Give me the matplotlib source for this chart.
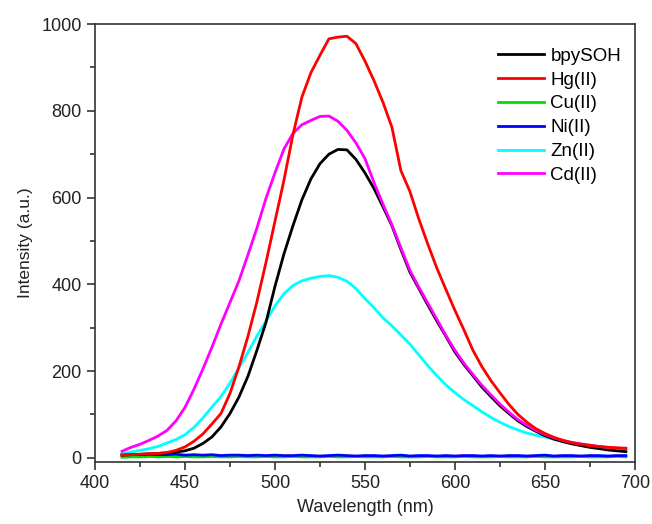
import matplotlib.pyplot as plt
from matplotlib.ticker import MultipleLocator

plt.rcParams['font.family'] = ['Liberation Sans', 'DejaVu Sans']

# wavelength grid (nm)
wavelength = [415, 420, 425, 430, 435, 440, 445, 450, 455, 460, 465, 470, 475, 480,
              485, 490, 495, 500, 505, 510, 515, 520, 525, 530, 535, 540, 545, 550,
              555, 560, 565, 570, 575, 580, 585, 590, 595, 600, 605, 610, 615, 620,
              625, 630, 635, 640, 645, 650, 655, 660, 665, 670, 675, 680, 685, 690, 695]

bpysoh = [6, 7, 8, 9, 10, 11, 13, 16, 22, 33, 48, 71, 102, 140,
          188, 248, 312, 395, 470, 535, 595, 643, 678, 700, 711, 710, 688, 657,
          621, 579, 535, 480, 428, 390, 352, 315, 280, 244, 215, 189, 163, 141,
          120, 102, 85, 72, 61, 51, 43, 37, 32, 28, 24, 21, 18, 16, 14]

hg = [6, 7, 8, 9, 10, 12, 17, 25, 38, 55, 78, 102, 148, 210,
      280, 360, 450, 545, 640, 745, 832, 888, 928, 966, 970, 972, 955, 915,
      870, 820, 762, 662, 614, 550, 492, 437, 388, 340, 295, 248, 210, 178,
      150, 123, 100, 82, 67, 56, 47, 40, 35, 31, 28, 26, 24, 23, 22]

cu = [1, 2, 2, 3, 2, 3, 2, 3, 2, 2, 3, 2, 2, 3,
      2, 2, 3, 2, 2, 3, 2, 2, 2, 3, 2, 2, 3, 2,
      2, 2, 3, 2, 2, 2, 3, 2, 2, 2, 3, 2, 2, 2,
      3, 2, 2, 2, 3, 2, 2, 2, 2, 3, 2, 2, 2, 3, 2]

ni = [8, 8, 7, 8, 7, 7, 8, 6, 7, 6, 7, 5, 6, 6,
      5, 6, 5, 6, 5, 5, 6, 5, 4, 5, 6, 5, 4, 5,
      5, 4, 5, 6, 4, 5, 5, 4, 5, 4, 5, 5, 4, 5,
      4, 5, 5, 4, 5, 6, 4, 5, 5, 4, 5, 5, 4, 5, 5]

zn = [9, 13, 17, 21, 26, 34, 42, 53, 70, 92, 117, 141, 172, 207,
      243, 281, 315, 350, 378, 397, 408, 414, 418, 420, 416, 407, 390, 367,
      346, 323, 304, 283, 262, 237, 212, 189, 168, 150, 134, 120, 106, 93,
      82, 72, 64, 57, 52, 48, 43, 38, 34, 31, 28, 25, 22, 19, 17]

cd = [15, 24, 31, 40, 50, 63, 85, 116, 158, 205, 255, 308, 358, 408,
      468, 530, 598, 657, 712, 748, 768, 778, 787, 788, 776, 755, 726, 690,
      635, 585, 537, 484, 432, 393, 356, 319, 282, 248, 218, 192, 167, 145,
      124, 105, 88, 75, 63, 54, 46, 40, 35, 32, 29, 26, 24, 22, 21]

labels = ['bpySOH', 'Hg(II)', 'Cu(II)', 'Ni(II)', 'Zn(II)', 'Cd(II)']
colors = ['#000000', '#ff0000', '#00e000', '#0000ff', '#00ffff', '#ff00ff']
series = [bpysoh, hg, cu, ni, zn, cd]

fig = plt.figure(figsize=(6.52, 5.24), dpi=100)
ax = fig.add_axes([0.1457, 0.119, 0.828, 0.835])

# draw order: low ones first so blue sits on green, magenta on black
order = [2, 3, 4, 0, 5, 1]
handles = {}
for i in order:
    ln, = ax.plot(wavelength, series[i], color=colors[i], lw=2.0, label=labels[i])
    handles[i] = ln

ax.set_xlim(400, 700)
ax.set_ylim(-9, 1000)
ax.xaxis.set_major_locator(MultipleLocator(50))
ax.xaxis.set_minor_locator(MultipleLocator(25))
ax.yaxis.set_major_locator(MultipleLocator(200))
ax.yaxis.set_minor_locator(MultipleLocator(100))
ax.tick_params(which='major', direction='out', length=6, width=1.1, labelsize=13,
               colors='#222222', pad=3.5)
ax.tick_params(which='minor', direction='out', length=3.5, width=1.1, colors='#222222')
for sp in ax.spines.values():
    sp.set_linewidth(1.2)
    sp.set_color('#333333')

ax.set_xlabel('Wavelength (nm)', fontsize=13, labelpad=5, color='#222222')
ax.set_ylabel('Intensity (a.u.)', fontsize=12.5, labelpad=6, color='#222222')

ax.legend([handles[i] for i in range(6)], labels, loc='upper left',
          bbox_to_anchor=(0.716, 0.985), frameon=False, fontsize=13.5,
          handlelength=2.45, handletextpad=0.32, labelspacing=0.36)

fig.savefig('out.png', dpi=100)
